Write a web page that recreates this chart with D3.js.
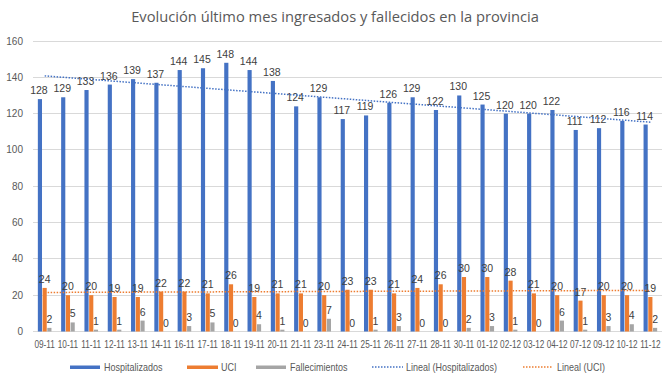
<!DOCTYPE html>
<html><head><meta charset="utf-8">
<script src="https://cdn.jsdelivr.net/npm/d3@7"></script>
<style>
html,body{margin:0;padding:0;background:#fff;}
text{font-family:"Liberation Sans",Arial,sans-serif;}
</style></head>
<body><svg id="c" width="670" height="377"></svg>
<script>
const categories = ["09-11","10-11","11-11","12-11","13-11","14-11","16-11","17-11","18-11","19-11","20-11","21-11","23-11","24-11","25-11","26-11","27-11","28-11","30-11","01-12","02-12","03-12","04-12","07-12","09-12","10-12","11-12"];
const hospitalizados = [128,129,133,136,139,137,144,145,148,144,138,124,129,117,119,126,129,122,130,125,120,120,122,111,112,116,114];
const uci = [24,20,20,19,19,22,22,21,26,19,21,21,20,23,23,21,24,26,30,30,28,21,20,17,20,20,19];
const fallecimientos = [2,5,1,1,6,0,3,5,0,4,1,0,7,0,1,3,0,0,2,3,1,0,6,1,3,4,2];
const yTicks = [0,20,40,60,80,100,120,140,160];
const seriesNames = ["Hospitalizados","UCI","Fallecimientos"];
const colors = ["#4472C4","#ED7D31","#A5A5A5"];

(function(){
const svg = d3.select("#c");
const pL = 33, pR = 662, pT = 41, pB = 331.5;
const x = d3.scaleBand().domain(categories).range([pL, pR]).padding(0);
const y = d3.scaleLinear().domain([0,160]).range([pB, pT]);
const inner = d3.scaleBand().domain(seriesNames).range([-6.8, 6.8]).paddingInner(0.12);

// title
svg.append("text").attr("x", 335).attr("y", 22).attr("text-anchor","middle")
  .attr("fill","#595959").style("font-size","14.7px").style("font-family","'Open Sans','Liberation Sans',sans-serif")
  .text("Evolución último mes ingresados y fallecidos en la provincia");

// grid
svg.append("g").selectAll("line").data(yTicks).join("line")
  .attr("x1", pL).attr("x2", pR).attr("y1", d=>y(d)).attr("y2", d=>y(d))
  .attr("stroke","#d9d9d9").attr("stroke-width",1).attr("shape-rendering","crispEdges");
svg.append("g").selectAll("text").data(yTicks).join("text")
  .attr("x", 23).attr("y", d=>y(d)+3.5).attr("text-anchor","end")
  .attr("fill","#595959").style("font-size","10px").text(d=>d);

const series = [hospitalizados, uci, fallecimientos];
series.forEach((vals, si) => {
  const name = seriesNames[si];
  const g = svg.append("g");
  g.selectAll("rect").data(vals).join("rect")
    .attr("x", (d,i)=>x(categories[i]) + x.bandwidth()/2 + inner(name))
    .attr("width", inner.bandwidth())
    .attr("y", d=>y(d)).attr("height", d=>y(0)-y(d))
    .attr("fill", colors[si]);
  g.selectAll("text").data(vals).join("text")
    .attr("x", (d,i)=>x(categories[i]) + x.bandwidth()/2 + inner(name) + inner.bandwidth()/2 + (si===0?-1:0))
    .attr("y", d=>y(d)-5)
    .attr("text-anchor","middle").attr("fill","#404040")
    .style("font-size","10.5px").text(d=>d);
});

// trendlines (least squares)
function trend(vals){
  const n = vals.length, xs = d3.range(1,n+1);
  const mx = d3.mean(xs), my = d3.mean(vals);
  const b = d3.sum(xs.map((xv,i)=>(xv-mx)*(vals[i]-my))) / d3.sum(xs.map(xv=>(xv-mx)**2));
  const a = my - b*mx;
  return [[categories[0], a+b*1],[categories[n-1], a+b*n]];
}
[[hospitalizados,"#4472C4"],[uci,"#ED7D31"]].forEach(([vals,col])=>{
  const t = trend(vals);
  svg.append("line")
    .attr("x1", x(t[0][0])+x.bandwidth()/2).attr("y1", y(t[0][1]))
    .attr("x2", x(t[1][0])+x.bandwidth()/2).attr("y2", y(t[1][1]))
    .attr("stroke", col).attr("stroke-width", 1.5).attr("stroke-dasharray","1.5,1.5");
});

// x labels (condensed)
svg.append("g").selectAll("text").data(categories).join("text")
  .attr("transform", d=>`translate(${x(d)+x.bandwidth()/2},347.5) scale(0.8,1)`)
  .attr("text-anchor","middle").attr("fill","#595959")
  .style("font-size","10.3px")
  .text(d=>d);

// legend
const leg = svg.append("g").style("font-size","10px");
const legItems = [
  {t:"Hospitalizados", x0:70, x1:100, c:colors[0], dash:false, tx:104},
  {t:"UCI", x0:187, x1:218, c:colors[1], dash:false, tx:221},
  {t:"Fallecimientos", x0:256, x1:286, c:colors[2], dash:false, tx:290},
  {t:"Lineal (Hospitalizados)", x0:372, x1:403, c:colors[0], dash:true, tx:406},
  {t:"Lineal (UCI)", x0:523, x1:553, c:colors[1], dash:true, tx:557}
];
legItems.forEach(it=>{
  if(it.dash){
    leg.append("line").attr("x1",it.x0).attr("x2",it.x1).attr("y1",367).attr("y2",367)
      .attr("stroke",it.c).attr("stroke-width",1.5).attr("stroke-dasharray","1.5,1.5");
  } else {
    leg.append("rect").attr("x",it.x0).attr("y",365.5).attr("width",it.x1-it.x0).attr("height",3.5).attr("fill",it.c);
  }
  leg.append("text").attr("transform",`translate(${it.tx},370.5) scale(0.9,1)`).attr("fill","#595959").text(it.t);
});
})();
</script></body></html>
